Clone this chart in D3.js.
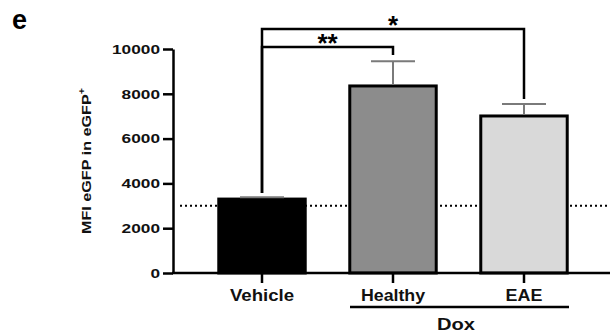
<!DOCTYPE html>
<html>
<head>
<meta charset="utf-8">
<script src="https://cdn.jsdelivr.net/npm/d3@7"></script>
<style>
  body { margin: 0; background: #fff; }
  text { font-family: "Liberation Sans", Arial, sans-serif; font-weight: bold; }
</style>
</head>
<body>
<script>
// data
const categories = ['Vehicle', 'Healthy', 'EAE'];
const means = [3300, 8350, 7010];
const errors = [80, 1100, 540];
const fills = ['#000000', '#8c8c8c', '#d9d9d9'];
const yTicks = [0, 2000, 4000, 6000, 8000, 10000];
const baseline = 3000;
// significance brackets: [from, to, top value, left end, right end, label]
const brackets = [
  ['Vehicle', 'EAE', 10890, 3570, 7770, '*'],
  ['Vehicle', 'Healthy', 10090, 3570, 9730, '**']
];

const width = 613;
const height = 334;

const svg = d3.select('body').append('svg')
  .attr('width', width)
  .attr('height', height);

const y = d3.scaleLinear().domain([0, 10000]).range([273, 49]);
const x = d3.scaleBand().domain(categories)
  .range([196.5, 589.5])
  .paddingInner(0.34)
  .paddingOuter(0.17);

const cx = d => x(d) + x.bandwidth() / 2;

// panel letter
svg.append('text')
  .attr('x', 12).attr('y', 29)
  .style('font-size', '27px')
  .text('e');

// dotted reference line (behind the bars)
svg.append('line')
  .attr('x1', 180).attr('x2', 610)
  .attr('y1', y(baseline)).attr('y2', y(baseline))
  .attr('stroke', '#000')
  .attr('stroke-width', 2)
  .attr('stroke-dasharray', '2,3');

// bars
svg.selectAll('.bar')
  .data(categories)
  .enter()
  .append('rect')
  .attr('class', 'bar')
  .attr('x', d => x(d))
  .attr('width', x.bandwidth())
  .attr('y', (d, i) => y(means[i]))
  .attr('height', (d, i) => y(0) - y(means[i]))
  .attr('fill', (d, i) => fills[i])
  .attr('stroke', '#000')
  .attr('stroke-width', 3);

// error bars (upper only)
const err = svg.selectAll('.err')
  .data(categories)
  .enter()
  .append('g')
  .attr('class', 'err')
  .attr('stroke', '#7a7a7a')
  .attr('stroke-width', 2);

err.append('line')
  .attr('x1', d => cx(d)).attr('x2', d => cx(d))
  .attr('y1', (d, i) => y(means[i]) - 1.5)
  .attr('y2', (d, i) => y(means[i] + errors[i]));

err.append('line')
  .attr('x1', d => cx(d) - 22).attr('x2', d => cx(d) + 22)
  .attr('y1', (d, i) => y(means[i] + errors[i]))
  .attr('y2', (d, i) => y(means[i] + errors[i]));

// y axis
const yAxis = svg.append('g')
  .attr('transform', 'translate(173,0)')
  .call(d3.axisLeft(y).tickValues(yTicks).tickSize(10).tickSizeOuter(0).tickPadding(3).tickFormat(d3.format('d')));

yAxis.select('.domain').attr('stroke-width', 2.5);
yAxis.selectAll('.tick line').attr('stroke-width', 2.5);
yAxis.selectAll('text')
  .style('font-size', '13.5px')
  .attr('fill', '#111')
  .attr('textLength', d => String(d).length * 9.6)
  .attr('lengthAdjust', 'spacingAndGlyphs');

// x axis
svg.append('line')
  .attr('x1', 172).attr('x2', 610)
  .attr('y1', y(0)).attr('y2', y(0))
  .attr('stroke', '#000')
  .attr('stroke-width', 2.5);

const xAxis = svg.append('g')
  .attr('transform', `translate(0,${y(0)})`)
  .call(d3.axisBottom(x).tickSize(10).tickSizeOuter(0));

xAxis.select('.domain').remove();
xAxis.selectAll('.tick line').attr('stroke-width', 2.5);
xAxis.selectAll('text')
  .attr('y', 28).attr('dy', 0)
  .style('font-size', '16px')
  .attr('fill', '#111')
  .attr('textLength', d => d.length * 10.6 - (d === 'EAE' ? -5 : 10))
  .attr('lengthAdjust', 'spacingAndGlyphs');

// Dox group line + label
svg.append('line')
  .attr('x1', cx('Healthy') - 43).attr('x2', cx('EAE') + 45)
  .attr('y1', 307).attr('y2', 307)
  .attr('stroke', '#000')
  .attr('stroke-width', 2.5);

svg.append('text')
  .attr('x', 456).attr('y', 330)
  .attr('text-anchor', 'middle')
  .style('font-size', '16px')
  .attr('fill', '#111')
  .attr('textLength', 38)
  .attr('lengthAdjust', 'spacingAndGlyphs')
  .text('Dox');

// y axis title
const title = svg.append('text')
  .attr('transform', 'translate(91,161) rotate(-90)')
  .attr('text-anchor', 'middle')
  .style('font-size', '13.5px')
  .attr('fill', '#111')
  .attr('textLength', 146)
  .attr('lengthAdjust', 'spacingAndGlyphs');
title.append('tspan').text('MFI eGFP in eGFP');
title.append('tspan').attr('dy', -6).style('font-size', '9px').text('+');

// significance brackets
brackets.forEach(b => {
  const x1 = cx(b[0]);
  const x2 = cx(b[1]);
  svg.append('path')
    .attr('d', `M${x1},${y(b[3])}V${y(b[2])}H${x2}V${y(b[4])}`)
    .attr('fill', 'none')
    .attr('stroke', '#000')
    .attr('stroke-width', 2.5);
  svg.append('text')
    .attr('x', (x1 + x2) / 2)
    .attr('y', y(b[2]) + 5)
    .attr('text-anchor', 'middle')
    .style('font-size', '26px')
    .text(b[5]);
});
</script>
</body>
</html>
